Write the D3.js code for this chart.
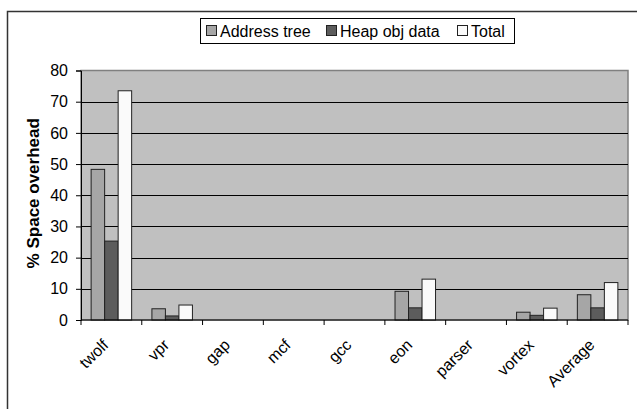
<!DOCTYPE html>
<html>
<head>
<meta charset="utf-8">
<script src="https://cdn.jsdelivr.net/npm/d3@7/dist/d3.min.js"></script>
<style>
  html, body { margin: 0; padding: 0; background: #fff; overflow: hidden; }
  svg { display: block; font-family: "Liberation Sans", Arial, sans-serif; }
</style>
</head>
<body>
<svg id="chart" width="637" height="409"></svg>
<script>
const categories = ["twolf", "vpr", "gap", "mcf", "gcc", "eon", "parser", "vortex", "Average"];
const seriesNames = ["Address tree", "Heap obj data", "Total"];
const addressTree = [48.3, 3.6, 0, 0, 0, 9.2, 0, 2.5, 8.1];
const heapObjData = [25.3, 1.3, 0, 0, 0, 3.9, 0, 1.5, 3.9];
const total = [73.5, 4.8, 0, 0, 0, 13.1, 0, 3.8, 12.0];
const yTicks = [0, 10, 20, 30, 40, 50, 60, 70, 80];
const colors = ["#a6a6a6", "#5c5c5c", "#fafafa"];

(function () {
const series = [addressTree, heapObjData, total];
const svg = d3.select("#chart");

// outer chart border (only top and left edges are inside the picture)
svg.append("path").attr("d", "M7.5,409 L7.5,11.5 L637,11.5")
  .attr("fill", "none").attr("stroke", "#333").attr("stroke-width", 1.5);

const pL = 81, pR = 628, pT = 70.5, pB = 320;
const x0 = d3.scaleBand().domain(categories).range([pL, pR]);
const bw = x0.bandwidth();
const y = d3.scaleLinear().domain([0, 80]).range([pB, pT]);

// plot background
svg.append("rect").attr("x", pL).attr("y", pT).attr("width", pR - pL).attr("height", pB - pT)
  .attr("fill", "#c0c0c0").attr("stroke", "#808080").attr("stroke-width", 1.5);

// gridlines
svg.append("g").selectAll("line").data(yTicks.filter(d => d > 0 && d < 80)).join("line")
  .attr("x1", pL).attr("x2", pR)
  .attr("y1", d => Math.round(y(d)) + 0.5).attr("y2", d => Math.round(y(d)) + 0.5)
  .attr("stroke", "#000").attr("stroke-width", 1);

// bars
const groupW = bw * 3 / 4.5;
const barW = groupW / 3;
const offset = (bw - groupW) / 2;
const bars = [];
categories.forEach((c, i) => {
  series.forEach((s, k) => {
    bars.push({ c, k, v: s[i] });
  });
});
svg.append("g").selectAll("rect").data(bars.filter(d => d.v > 0)).join("rect")
  .attr("x", d => x0(d.c) + offset + d.k * barW)
  .attr("y", d => y(d.v))
  .attr("width", barW)
  .attr("height", d => y(0) - y(d.v))
  .attr("fill", d => colors[d.k])
  .attr("stroke", "#222").attr("stroke-width", 1);

// y axis
const yAxis = d3.axisLeft(y).tickValues(yTicks).tickSize(5).tickPadding(8);
const gy = svg.append("g").attr("transform", `translate(${pL},0)`).call(yAxis);
gy.select(".domain").attr("stroke", "#000");
gy.selectAll(".tick line").attr("stroke", "#000");
gy.selectAll("text").attr("font-size", 16).attr("fill", "#000")
  .attr("font-family", "Liberation Sans, Arial, sans-serif");

// x axis
const gx = svg.append("g").attr("transform", `translate(0,${pB})`);
gx.append("line").attr("x1", pL).attr("x2", pR).attr("y1", 0).attr("y2", 0).attr("stroke", "#000");
const bounds = categories.map(c => x0(c)).concat([pR]);
gx.selectAll("line.tk").data(bounds).join("line").attr("class", "tk")
  .attr("x1", d => d).attr("x2", d => d).attr("y1", 0).attr("y2", 5).attr("stroke", "#000");
gx.selectAll("text").data(categories).join("text")
  .attr("transform", d => `translate(${x0(d) + bw / 2 - 2},${26}) rotate(-45)`)
  .attr("text-anchor", "end")
  .attr("font-size", 16)
  .attr("fill", "#000")
  .text(d => d);

// y axis title
svg.append("text")
  .attr("transform", `translate(39,${(pT + pB) / 2 - 2}) rotate(-90)`)
  .attr("text-anchor", "middle")
  .attr("font-size", 17).attr("font-weight", "bold").attr("fill", "#000")
  .text("% Space overhead");

// legend
const lg = svg.append("g");
lg.append("rect").attr("x", 200.5).attr("y", 18.5).attr("width", 314).attr("height", 25)
  .attr("fill", "#fff").attr("stroke", "#000").attr("stroke-width", 1);
const legendX = [206, 326, 457];
seriesNames.forEach((n, k) => {
  lg.append("rect").attr("x", legendX[k] + 0.5).attr("y", 25.5).attr("width", 10).attr("height", 10)
    .attr("fill", colors[k]).attr("stroke", "#222");
  lg.append("text").attr("x", legendX[k] + 14).attr("y", 37).attr("font-size", 16)
    .attr("fill", "#000").text(n);
});
})();
</script>
</body>
</html>
